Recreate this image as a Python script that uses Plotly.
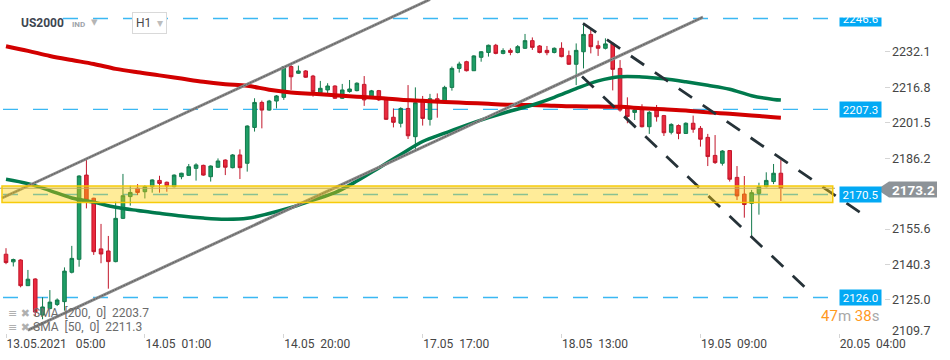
import plotly.graph_objects as go

# ---------------- data ----------------
bar_index = list(range(107))
open_ = [2144.7, 2141.4, 2142.2, 2131.1, 2134.0, 2118.4, 2121.2, 2123.0, 2124.2, 2136.9,
         2142.5, 2178.9, 2168.9, 2147.0, 2146.1, 2141.5, 2160.2, 2169.6, 2173.2, 2171.7,
         2173.9, 2176.6, 2175.8, 2173.9, 2178.2, 2178.8, 2181.8, 2183.1, 2178.2, 2182.3,
         2185.4, 2182.1, 2187.6, 2184.0, 2199.5, 2210.3, 2207.0, 2210.9, 2212.5, 2225.8,
         2222.9, 2223.9, 2221.7, 2214.5, 2215.7, 2217.4, 2212.1, 2215.0, 2215.4, 2218.1,
         2212.4, 2215.4, 2211.6, 2203.9, 2201.3, 2207.7, 2195.5, 2210.6, 2203.0, 2211.9,
         2210.6, 2216.8, 2225.0, 2227.9, 2224.0, 2229.8, 2231.9, 2235.0, 2231.5, 2232.8,
         2231.9, 2233.7, 2237.0, 2234.7, 2232.8, 2231.9, 2233.7, 2230.5, 2226.8, 2232.2,
         2239.7, 2234.8, 2233.7, 2235.6, 2225.0, 2208.2, 2206.0, 2207.3, 2199.8, 2207.5,
         2204.6, 2197.4, 2200.3, 2196.9, 2201.3, 2199.1, 2195.2, 2187.4, 2184.0, 2189.5,
         2177.9, 2170.7, 2166.7, 2171.0, 2173.9, 2176.1, 2179.7]
high = [2147.3, 2142.8, 2142.5, 2137.9, 2134.3, 2126.1, 2129.2, 2125.6, 2139.0, 2148.3,
        2178.8, 2185.4, 2169.1, 2157.8, 2152.6, 2167.4, 2179.4, 2174.3, 2175.0, 2174.5,
        2177.1, 2178.6, 2176.1, 2179.2, 2179.9, 2183.7, 2184.0, 2183.4, 2183.1, 2186.1,
        2185.7, 2188.0, 2190.0, 2200.4, 2212.1, 2211.1, 2211.4, 2213.5, 2226.0, 2226.5,
        2226.2, 2224.3, 2222.2, 2219.6, 2218.6, 2217.7, 2218.3, 2220.0, 2219.0, 2221.7,
        2215.7, 2215.7, 2211.9, 2207.7, 2208.2, 2217.8, 2216.8, 2213.1, 2214.0, 2214.2,
        2217.5, 2225.8, 2227.9, 2228.3, 2230.7, 2232.5, 2235.3, 2235.6, 2233.7, 2233.7,
        2235.1, 2239.9, 2238.4, 2235.1, 2234.7, 2234.1, 2236.3, 2232.7, 2235.8, 2244.5,
        2241.6, 2237.0, 2238.0, 2236.4, 2228.6, 2212.5, 2207.7, 2209.5, 2206.6, 2209.2,
        2204.9, 2201.3, 2200.8, 2201.7, 2204.6, 2200.1, 2196.7, 2196.2, 2189.7, 2189.7,
        2182.8, 2178.5, 2172.5, 2175.6, 2180.1, 2183.7, 2185.4]
low = [2140.4, 2139.4, 2130.4, 2131.0, 2118.0, 2116.6, 2120.9, 2122.3, 2120.3, 2136.4,
       2139.3, 2164.5, 2144.4, 2140.8, 2129.8, 2141.2, 2159.9, 2165.7, 2170.3, 2168.8,
       2171.3, 2171.3, 2171.7, 2173.6, 2177.1, 2178.5, 2176.5, 2178.6, 2176.1, 2182.0,
       2178.9, 2181.8, 2177.2, 2180.4, 2197.7, 2199.1, 2206.7, 2207.7, 2211.4, 2215.7,
       2222.6, 2220.9, 2212.8, 2213.5, 2214.0, 2211.8, 2211.8, 2214.5, 2215.1, 2208.8,
       2212.1, 2210.9, 2202.7, 2199.5, 2199.5, 2194.5, 2190.0, 2200.3, 2200.3, 2203.7,
       2209.9, 2215.4, 2223.2, 2223.7, 2223.9, 2227.9, 2230.1, 2231.1, 2231.1, 2230.7,
       2231.5, 2233.4, 2233.0, 2231.5, 2230.7, 2231.5, 2229.8, 2226.5, 2217.8, 2225.0,
       2231.5, 2230.4, 2233.2, 2215.5, 2206.3, 2201.3, 2202.7, 2199.5, 2196.7, 2202.0,
       2195.8, 2196.5, 2194.4, 2196.7, 2197.2, 2191.2, 2182.8, 2183.7, 2183.0, 2176.1,
       2168.1, 2160.5, 2152.3, 2161.8, 2173.6, 2175.0, 2167.7]
close = [2141.1, 2142.4, 2131.1, 2133.9, 2119.7, 2121.9, 2124.0, 2124.9, 2137.4, 2142.9,
         2178.5, 2168.1, 2145.8, 2144.8, 2141.5, 2160.2, 2170.0, 2171.4, 2171.4, 2173.9,
         2176.8, 2175.3, 2174.2, 2178.9, 2179.7, 2182.5, 2183.3, 2178.9, 2182.8, 2185.0,
         2182.3, 2187.6, 2182.1, 2200.1, 2210.3, 2207.0, 2210.9, 2213.1, 2225.8, 2221.4,
         2223.9, 2221.2, 2215.0, 2216.4, 2217.4, 2212.1, 2215.7, 2216.1, 2218.6, 2211.4,
         2215.3, 2211.4, 2203.0, 2201.7, 2207.7, 2195.9, 2210.2, 2203.4, 2211.9, 2210.6,
         2216.8, 2225.0, 2226.9, 2224.0, 2230.4, 2232.2, 2235.0, 2231.5, 2232.7, 2231.9,
         2234.4, 2237.0, 2234.1, 2231.9, 2231.8, 2233.7, 2230.1, 2226.8, 2232.8, 2239.7,
         2234.4, 2233.7, 2235.6, 2224.6, 2207.0, 2204.2, 2207.0, 2199.8, 2206.0, 2204.1,
         2197.2, 2200.8, 2196.9, 2201.3, 2198.7, 2194.4, 2186.9, 2184.3, 2189.3, 2177.1,
         2169.9, 2166.2, 2171.3, 2173.9, 2176.6, 2179.7, 2173.2]

sma_bars = [0, 3, 6, 9, 12, 15, 18, 21, 24, 27, 30, 33, 36, 39, 42, 45, 48, 51, 54, 57,
            60, 63, 66, 69, 72, 75, 78, 81, 84, 87, 90, 93, 96, 99, 102, 105, 106]
sma200 = [2234.6, 2232.6, 2230.4, 2228.6, 2226.9, 2224.8, 2223.3, 2222.0, 2220.6, 2219.2,
          2218.2, 2217.5, 2215.8, 2214.6, 2214.0, 2213.4, 2212.8, 2212.2, 2211.5, 2211.0,
          2210.5, 2210.1, 2209.7, 2209.3, 2209.2, 2208.9, 2208.6, 2208.5, 2208.4, 2207.8,
          2207.3, 2206.8, 2206.0, 2205.4, 2204.7, 2203.9, 2203.7]
sma50 = [2177.1, 2175.2, 2172.2, 2169.0, 2167.2, 2165.0, 2163.6, 2162.4, 2161.2, 2160.3,
         2159.8, 2160.2, 2162.3, 2164.9, 2168.1, 2171.3, 2176.3, 2182.0, 2187.8, 2193.4,
         2197.0, 2200.5, 2203.7, 2206.6, 2209.2, 2212.5, 2216.3, 2219.6, 2221.4, 2221.3,
         2220.5, 2219.2, 2217.7, 2216.0, 2213.2, 2211.6, 2211.3]

tick_bars = [0, 19, 38, 57, 76, 95, 114]
tick_labels = ["13.05.2021\u00a0\u00a0\u00a005:00", "14.05\u00a0\u00a001:00", "14.05\u00a0\u00a020:00",
               "17.05\u00a0\u00a017:00", "18.05\u00a0\u00a013:00", "19.05\u00a0\u00a009:00",
               "20.05\u00a0\u00a004:00"]
price_ticks = [2125.0, 2140.3, 2155.6, 2186.2, 2201.5, 2216.8, 2232.1]
bottom_price_tick = 2109.7

levels = [2246.6, 2207.3, 2170.5, 2126.0]
current_price = 2173.2
zone = [2167.0, 2174.2]          # price band (low, high)
zone_bars = [-0.55, 113.1]
up_channel_lower = [(3.0, 2111.9), (95.35, 2247.2)]
up_channel_upper = [(-0.55, 2169.0), (58.0, 2254.8)]
down_line_upper = [(78.93, 2244.5), (117.37, 2161.6)]
down_line_lower = [(78.80, 2221.5), (110.26, 2127.5)]
sma_legend = ["SMA\u00a0\u00a0[200,\u00a0\u00a00]\u00a0\u00a02203.7", "SMA\u00a0\u00a0[50,\u00a0\u00a00]\u00a0\u00a02211.3"]

# ---------------- layout geometry ----------------
W, H = 950, 360
PLOT_W = 883.5
PLOT_H = 333
X_RANGE = [-0.821, 120.04]
Y_RANGE = [2110.65, 2254.57]


def pxx(v):
    return v / W


def pxy(v):
    return 1 - v / PLOT_H


FONT = "Roboto"
BLUE = "#03A9F4"

fig = go.Figure()

fig.add_trace(go.Candlestick(
    x=bar_index, open=open_, high=high, low=low, close=close,
    increasing=dict(line=dict(color="#137a4c", width=1), fillcolor="#1e9e66"),
    decreasing=dict(line=dict(color="#c2172b", width=1), fillcolor="#ea2a3e"),
    whiskerwidth=0, hoverinfo="skip", showlegend=False,
))
fig.add_trace(go.Scatter(x=sma_bars, y=sma200, mode="lines",
                         line=dict(color="#d20000", width=4, shape="spline"),
                         hoverinfo="skip", showlegend=False))
fig.add_trace(go.Scatter(x=sma_bars, y=sma50, mode="lines",
                         line=dict(color="#007a4d", width=3.5, shape="spline"),
                         hoverinfo="skip", showlegend=False))

shapes = []
for lv in levels:
    shapes.append(dict(type="line", xref="paper", yref="y", x0=pxx(3), x1=pxx(830), y0=lv, y1=lv,
                       line=dict(color="#3bb8f3", width=1.4, dash="15px,15px"), layer="below"))
for seg in (up_channel_lower, up_channel_upper):
    shapes.append(dict(type="line", xref="x", yref="y", x0=seg[0][0], y0=seg[0][1], x1=seg[1][0], y1=seg[1][1],
                       line=dict(color="#8a8a8a", width=3), layer="above"))
    shapes.append(dict(type="line", xref="x", yref="y", x0=seg[0][0], y0=seg[0][1], x1=seg[1][0], y1=seg[1][1],
                       line=dict(color="#5e5e5e", width=1, dash="2px,1px"), layer="above"))
for seg in (down_line_upper, down_line_lower):
    shapes.append(dict(type="line", xref="x", yref="y", x0=seg[0][0], y0=seg[0][1], x1=seg[1][0], y1=seg[1][1],
                       line=dict(color="#263238", width=2.8, dash="16px,13px"), layer="above"))
shapes.append(dict(type="line", xref="paper", yref="y", x0=0, x1=pxx(835), y0=current_price, y1=current_price,
                   line=dict(color="#9a9a9a", width=1), layer="above"))
shapes.append(dict(type="rect", xref="x", yref="y", x0=zone_bars[0], x1=zone_bars[1], y0=zone[0], y1=zone[1],
                   fillcolor="rgba(255,208,0,0.40)", line=dict(color="rgba(245,200,0,0.95)", width=1.5),
                   layer="above"))
# header backdrop
shapes.append(dict(type="rect", xref="paper", yref="paper", x0=0, x1=pxx(61), y0=pxy(32), y1=pxy(8),
                   fillcolor="white", line=dict(width=0), layer="above"))
# current price tag
path = "M {} {} L {} {} L {} {} L {} {} L {} {} Z".format(
    pxx(877), pxy(189.5), pxx(889), pxy(181.5), pxx(937), pxy(181.5), pxx(937), pxy(197.5), pxx(889), pxy(197.5))
shapes.append(dict(type="path", xref="paper", yref="paper", path=path, fillcolor="#8d9398",
                   line=dict(width=0), layer="above"))

ann = []
# blue price level labels
for lv in levels:
    ann.append(dict(xref="paper", yref="y", x=pxx(839), y=lv, xanchor="left", yanchor="middle",
                    text="{:.1f}".format(lv), showarrow=False, bgcolor=BLUE, width=41, height=15,
                    borderpad=0, font=dict(family=FONT, size=11.5, color="white")))
# white strip at the very top that hides the upper half of the top label
ann.append(dict(xref="paper", yref="paper", x=pxx(834), y=1, xanchor="left", yanchor="top",
                text=".", showarrow=False, bgcolor="white", width=54, height=16, borderpad=0,
                font=dict(size=4, color="white")))
# current price text
ann.append(dict(xref="paper", yref="paper", x=pxx(913), y=pxy(189.5), xanchor="center", yanchor="middle",
                text="<b>{:.1f}</b>".format(current_price), showarrow=False,
                font=dict(family=FONT, size=13.5, color="white")))
# bottom price tick label
ann.append(dict(xref="paper", yref="paper", x=pxx(890), y=pxy(330), xanchor="left", yanchor="middle",
                text="{:.1f}".format(bottom_price_tick), showarrow=False,
                font=dict(family=FONT, size=12.5, color="#454545")))
# header
ann.append(dict(xref="paper", yref="paper", x=pxx(19), y=pxy(23), xanchor="left", yanchor="middle",
                text="<b>US2000</b>", showarrow=False, font=dict(family=FONT, size=12, color="#3d4650")))
ann.append(dict(xref="paper", yref="paper", x=pxx(70), y=pxy(24.5), xanchor="left", yanchor="middle",
                text="<b>IND</b>", showarrow=False, font=dict(family=FONT, size=8, color="#9ea4aa")))
ann.append(dict(xref="paper", yref="paper", x=pxx(89), y=pxy(21), xanchor="left", yanchor="middle",
                text="▾", showarrow=False, font=dict(family="DejaVu Sans", size=13, color="#b5b5b5")))
ann.append(dict(xref="paper", yref="paper", x=pxx(149), y=pxy(23), xanchor="center", yanchor="middle",
                text="H1\u00a0\u00a0<span style='color:#bdbdbd'>▾</span>", showarrow=False,
                bgcolor="white", bordercolor="#d9d9d9", borderwidth=1, borderpad=3,
                font=dict(family=FONT, size=12, color="#4a4a4a")))
# legend
for k, txt in enumerate(sma_legend):
    yy = 313 + 14 * k
    ann.append(dict(xref="paper", yref="paper", x=pxx(6), y=pxy(yy), xanchor="left", yanchor="middle",
                    text="≡\u00a0✖", showarrow=False, font=dict(family="DejaVu Sans", size=11, color="#b0b0b0")))
    ann.append(dict(xref="paper", yref="paper", x=pxx(31), y=pxy(yy), xanchor="left", yanchor="middle",
                    text=txt, showarrow=False, font=dict(family=FONT, size=12, color="#6b6b6b")))
# timer
ann.append(dict(xref="paper", yref="paper", x=pxx(881), y=pxy(316), xanchor="right", yanchor="middle",
                text="<span style='color:#ff9a1f'>47</span><span style='color:#a8a8a8'>m</span>"
                     "\u00a0<span style='color:#ff9a1f'>38</span><span style='color:#a8a8a8'>s</span>",
                showarrow=False, font=dict(family=FONT, size=15)))

fig.update_layout(
    width=W, height=H, margin=dict(l=0, r=0, t=0, b=H - PLOT_H, autoexpand=False),
    paper_bgcolor="white", plot_bgcolor="white", showlegend=False,
    shapes=shapes, annotations=ann, hovermode=False,
    xaxis=dict(domain=[0, PLOT_W / W], range=X_RANGE, rangeslider=dict(visible=False),
               automargin=False,
               showgrid=False, zeroline=False, showline=False,
               tickmode="array", tickvals=tick_bars, ticktext=tick_labels,
               ticks="outside", ticklen=4, tickcolor="#d5d5d5", tickwidth=1,
               ticklabelposition="outside right",
               tickfont=dict(family=FONT, size=12, color="#454545")),
    yaxis=dict(side="right", range=Y_RANGE, showgrid=False, zeroline=False, showline=False,
               automargin=False,
               tickmode="array", tickvals=price_ticks, ticktext=["{:.1f}".format(v) for v in price_ticks],
               ticks="outside", ticklen=5, tickcolor="#d5d5d5",
               tickfont=dict(family=FONT, size=12.5, color="#454545")),
)

fig.write_html("out.html", config={"displayModeBar": False},
               post_script="document.body.style.margin='0';document.body.style.overflow='hidden';")
